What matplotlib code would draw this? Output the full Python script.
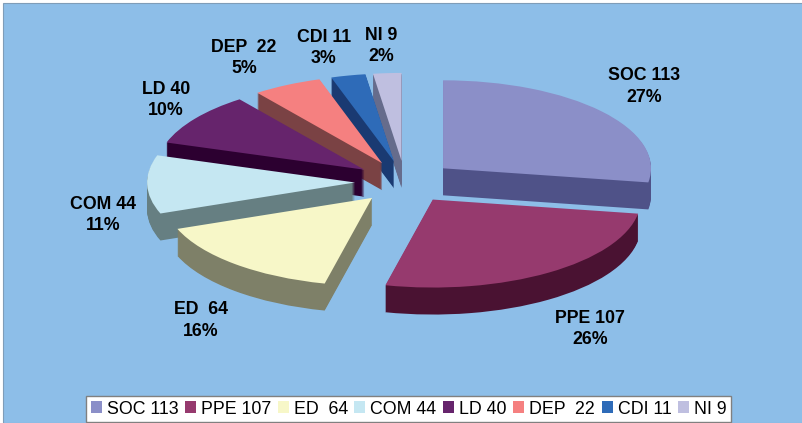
import matplotlib
matplotlib.use("Agg")
import matplotlib.pyplot as plt
from matplotlib.patches import Rectangle

W, H = 803, 423
categories = ["SOC", "PPE", "ED", "COM", "LD", "DEP", "CDI", "NI"]
values = [113, 107, 64, 44, 40, 22, 11, 9]
legend_labels = ["SOC 113", "PPE 107", "ED  64", "COM 44", "LD 40", "DEP  22", "CDI 11", "NI 9"]
slice_labels = ["SOC 113\n27%", "PPE 107\n26%", "ED  64\n16%", "COM 44\n11%",
                "LD 40\n10%", "DEP  22\n5%", "CDI 11\n3%", "NI 9\n2%"]
label_px = [(644, 86.5), (590, 329), (201, 320.5), (103, 215), (166, 100), (244, 58), (324, 48), (381, 46)]
top_colors = ["#8B8FC8", "#963A6E", "#F7F7C8", "#C5E7F2", "#66246C", "#F58080", "#2E6BB8", "#BFBFE0"]
side_colors = ["#4F5288", "#4A1232", "#7E8068", "#667F82", "#2C0030", "#7A4244", "#1A3A72", "#666C8C"]
depth_order = [7, 6, 5, 4, 3, 2, 0, 1]   # back to front
BG = "#8DBEE8"

plt.rcParams["font.family"] = ["Liberation Sans", "DejaVu Sans"]
fig = plt.figure(figsize=(W / 100, H / 100), dpi=100, facecolor="white")
ax = fig.add_axes([0, 0, 1, 1])

CX, CY, RX, RY = 405, 182, 208, 88
DEPTH = 27
explode = [0.24] * len(values)


def draw(colors, dy, z_off):
    wedges, _ = ax.pie(values, explode=explode, startangle=90, counterclock=False,
                       colors=colors, center=(0, -dy), radius=1,
                       wedgeprops=dict(linewidth=0))
    for i, w in enumerate(wedges):
        w.set_zorder(2 + 2 * depth_order.index(i) + z_off)
    return wedges


for px in range(DEPTH, 0, -1):
    draw(side_colors, px / RY, 0)
tops = draw(top_colors, 0, 1)

ax.set_aspect("auto")
ax.set_xlim((0 - CX) / RX, (W - CX) / RX)
ax.set_ylim((CY - H) / RY, CY / RY)
ax.set_frame_on(True)
ax.set_facecolor("white")
for s in ax.spines.values():
    s.set_visible(False)
ax.add_patch(Rectangle((3 / W, 0), 1, 1 - 3 / H, transform=ax.transAxes,
                       facecolor=BG, edgecolor="#7F9DB8", linewidth=0.8, zorder=0.5))

for text, (x, y) in zip(slice_labels, label_px):
    ax.text((x - CX) / RX, (CY - y) / RY, text, ha="center", va="center",
            fontsize=12.8, fontweight="bold", color="black", linespacing=1.33, zorder=40)

leg = ax.legend(tops, legend_labels, ncol=8, loc="center",
                bbox_to_anchor=(408.5 / W, 1 - 409 / H), fontsize=12.8,
                frameon=True, fancybox=False, framealpha=1, edgecolor="#808080",
                facecolor="white", handlelength=0.62, handleheight=0.62,
                handletextpad=0.28, columnspacing=0.37, borderpad=0.25, borderaxespad=0)
leg.set_zorder(50)
leg.get_frame().set_linewidth(1)

fig.savefig("out.png", dpi=100, facecolor="white")
